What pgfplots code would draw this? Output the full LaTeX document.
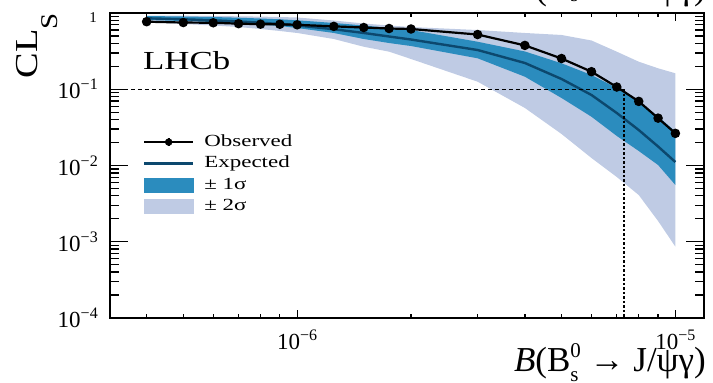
\documentclass[border=0pt]{standalone}
\usepackage{fontspec}
\setmainfont{Liberation Serif}
\usepackage{graphicx}
\usepackage{pgfplots}
\pgfplotsset{compat=1.18}

\definecolor{bandtwo}{RGB}{191,203,228}
\definecolor{bandone}{RGB}{43,140,190}
\definecolor{expc}{RGB}{12,72,110}

\newcommand{\pw}[1]{10\raisebox{9pt}{\fontsize{16}{16}\selectfont #1}}
\newcommand{\sx}[1]{\scalebox{1.35}[1]{#1}}
\newcommand{\xlab}[1]{\textit{B}(B\rlap{\raisebox{#1}{\fontsize{21}{21}\selectfont s}}\raisebox{14pt}{\fontsize{21}{21}\selectfont 0}\ → J/ψγ)}

\begin{document}
\begin{tikzpicture}
\useasboundingbox (0pt,0pt) rectangle (713pt,383pt);
\begin{axis}[
  at={(110pt,65pt)}, anchor=south west,
  width=594pt, height=305pt, scale only axis,
  xmode=log, ymode=log,
  xmin=3.2e-7, xmax=1.19e-5, ymin=1e-4, ymax=1,
  xtick={1e-6,1e-5}, xticklabels={\pw{−6},\pw{−5}},
  minor xtick={4e-7,5e-7,6e-7,7e-7,8e-7,9e-7,2e-6,3e-6,4e-6,5e-6,6e-6,7e-6,8e-6,9e-6},
  ytick=\empty,
  major tick length=8pt, minor tick length=4pt,
  tick style={line width=1.3pt, black},
  axis line style={line width=1.6pt},
  axis on top,
  tick label style={font=\fontsize{23}{23}\selectfont},
  xticklabel style={inner sep=0pt, yshift=-12pt},
  legend style={at={(rel axis cs:0.0556,0.603)}, anchor=north west, draw=none, fill=none,
    inner sep=0pt, outer sep=0pt,
    font=\fontsize{17}{17}\selectfont, nodes={inner sep=0pt, text height=12pt, text depth=4pt},
    row sep=5.5pt, column sep=10pt},
  legend cell align=left,
]
% 2 sigma band
\addplot[fill=bandtwo, draw=none, forget plot] coordinates {
(4e-7,0.927) (5e-7,0.922) (6e-7,0.913) (7e-7,0.905) (8e-7,0.897) (9e-7,0.886) (1e-6,0.873)
(1.25e-6,0.797) (1.5e-6,0.728) (1.75e-6,0.686) (2e-6,0.655) (3e-6,0.598) (4e-6,0.547)
(5e-6,0.515) (6e-6,0.436) (7e-6,0.311) (8e-6,0.2298) (9e-6,0.1883) (1e-5,0.1619)
(1e-5,0.000861) (9e-6,0.00187) (8e-6,0.0041) (7e-6,0.00707) (6e-6,0.01254) (5e-6,0.0259)
(4e-6,0.0568) (3e-6,0.1256) (2e-6,0.2493) (1.75e-6,0.311) (1.5e-6,0.361) (1.25e-6,0.456)
(1e-6,0.547) (9e-7,0.581) (8e-7,0.617) (7e-7,0.655) (6e-7,0.686) (5e-7,0.717) (4e-7,0.762)
} -- cycle;
% 1 sigma band
\addplot[fill=bandone, draw=none, forget plot] coordinates {
(4e-7,0.913) (5e-7,0.90) (6e-7,0.886) (7e-7,0.868) (8e-7,0.847) (9e-7,0.827) (1e-6,0.802)
(1.25e-6,0.740) (1.5e-6,0.686) (1.75e-6,0.636) (2e-6,0.598) (3e-6,0.420) (4e-6,0.313)
(5e-6,0.219) (6e-6,0.1538) (7e-6,0.1038) (8e-6,0.0691) (9e-6,0.0439) (1e-5,0.0279)
(1e-5,0.00555) (9e-6,0.01015) (8e-6,0.0155) (7e-6,0.0244) (6e-6,0.0436) (5e-6,0.0768)
(4e-6,0.1461) (3e-6,0.2546) (2e-6,0.369) (1.75e-6,0.404) (1.5e-6,0.456) (1.25e-6,0.547)
(1e-6,0.636) (9e-7,0.675) (8e-7,0.705) (7e-7,0.733) (6e-7,0.762) (5e-7,0.785) (4e-7,0.81)
} -- cycle;
% expected
\addplot[expc, line width=2.4pt, forget plot] coordinates {
(4e-7,0.852) (5e-7,0.827) (6e-7,0.802) (7e-7,0.774) (8e-7,0.746) (9e-7,0.717) (1e-6,0.686)
(1.25e-6,0.613) (1.5e-6,0.547) (1.75e-6,0.492) (2e-6,0.449) (3e-6,0.327) (4e-6,0.221)
(5e-6,0.1363) (6e-6,0.0841) (7e-6,0.0488) (8e-6,0.0292) (9e-6,0.01775) (1e-5,0.0111)
};
% 90% CL lines
\addplot[black, line width=1.5pt, dash pattern=on 4pt off 3pt, forget plot] coordinates {(3.2e-7,0.1) (7.3e-6,0.1)};
\addplot[black, line width=1.9pt, dash pattern=on 2.5pt off 2pt, forget plot] coordinates {(7.3e-6,0.1) (7.3e-6,1e-4)};
% observed
\addplot[black, line width=2.2pt, mark=*, mark size=3.6pt, forget plot] coordinates {
(4e-7,0.769) (5e-7,0.75) (6e-7,0.745) (7e-7,0.725) (8e-7,0.714) (9e-7,0.712) (1e-6,0.70)
(1.25e-6,0.668) (1.5e-6,0.645) (1.75e-6,0.626) (2e-6,0.617) (3e-6,0.522) (4e-6,0.376)
(5e-6,0.253) (6e-6,0.170) (7e-6,0.107) (8e-6,0.0693) (9e-6,0.0418) (1e-5,0.0264)
};
\addlegendimage{legend image code/.code={
  \draw[black,line width=1.8pt] (0pt,0pt) -- (49pt,0pt);
  \draw[black,line width=1.8pt] (24.5pt,-4pt) -- (24.5pt,4pt);
  \fill[black] (24.5pt,0pt) circle (3.5pt);}}
\addlegendentry{\sx{Observed}}
\addlegendimage{legend image code/.code={
  \draw[expc,line width=2.4pt] (0pt,0pt) -- (49pt,0pt);}}
\addlegendentry{\sx{Expected}}
\addlegendimage{legend image code/.code={
  \fill[bandone] (0pt,-7pt) rectangle (49pt,7pt);}}
\addlegendentry{\sx{± 1σ}}
\addlegendimage{legend image code/.code={
  \fill[bandtwo] (0pt,-7pt) rectangle (49pt,7pt);}}
\addlegendentry{\sx{± 2σ}}
\end{axis}
\begin{axis}[
  at={(110pt,65pt)}, anchor=south west,
  width=594pt, height=305pt, scale only axis,
  xmode=log, ymode=log,
  xmin=3.2e-7, xmax=1.19e-5, ymin=1e-4, ymax=1,
  xtick=\empty,
  ytick={1e-4,1e-3,1e-2,1e-1,1},
  yticklabels={\pw{−4},\pw{−3},\pw{−2},\pw{−1},{}},
  minor ytick={2e-4,3e-4,4e-4,5e-4,6e-4,7e-4,8e-4,9e-4,
    2e-3,3e-3,4e-3,5e-3,6e-3,7e-3,8e-3,9e-3,
    2e-2,3e-2,4e-2,5e-2,6e-2,7e-2,8e-2,9e-2,
    2e-1,3e-1,4e-1,5e-1,6e-1,7e-1,8e-1,9e-1},
  major tick length=18pt, minor tick length=9pt,
  tick style={line width=1.3pt, black},
  axis line style={line width=1.6pt},
  tick label style={font=\fontsize{23}{23}\selectfont},
  yticklabel style={inner sep=0pt, xshift=-12pt},
]
\end{axis}
\node[anchor=base west, inner sep=0pt, font=\fontsize{26}{26}\selectfont] at (143pt,313pt) {\scalebox{1.34}[1]{LHCb}};
\node[rotate=90, anchor=base east, inner sep=0pt, font=\fontsize{32}{32}\selectfont] at (38pt,370pt) {\scalebox{1.2}[1]{CL\raisebox{-20pt}{\fontsize{24}{24}\selectfont S}}};
\node[anchor=east, inner sep=0pt, font=\fontsize{15}{15}\selectfont] at (97pt,365pt) {1};
\node[anchor=base east, inner sep=0pt, font=\fontsize{35}{35}\selectfont] at (706pt,11pt) {\xlab{-10pt}};
\node[anchor=base east, inner sep=0pt, font=\fontsize{35}{35}\selectfont] at (706pt,383pt) {\xlab{-2pt}};
\end{tikzpicture}
\end{document}
